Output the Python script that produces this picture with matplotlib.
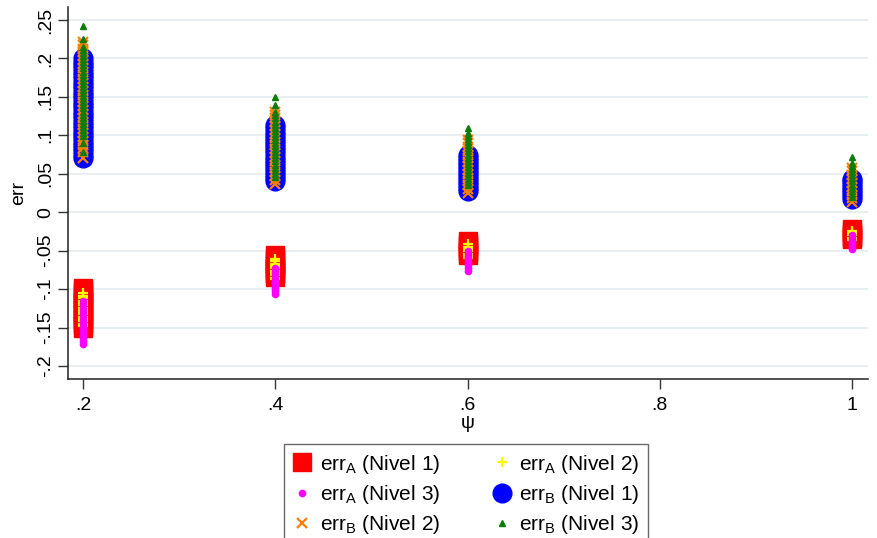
import numpy as np
import matplotlib
matplotlib.use("Agg")
import matplotlib.pyplot as plt

plt.rcParams['font.family'] = ['Liberation Sans', 'DejaVu Sans']
plt.rcParams['mathtext.fontset'] = 'custom'
plt.rcParams['mathtext.rm'] = 'Liberation Sans'

psi = [0.2, 0.4, 0.6, 1.0]

# err_A, nivel 1..3 (one list per psi value)
errA_n1 = [
    [-0.098, -0.101, -0.105, -0.108, -0.112, -0.115, -0.119, -0.122, -0.126, -0.129, -0.133, -0.137, -0.140, -0.144, -0.147, -0.150],
    [-0.056, -0.059, -0.062, -0.066, -0.069, -0.072, -0.075, -0.079, -0.081, -0.084],
    [-0.038, -0.041, -0.044, -0.047, -0.050, -0.053, -0.056],
    [-0.022, -0.025, -0.028, -0.031, -0.033, -0.035],
]
errA_n2 = [
    [-0.105, -0.109, -0.112, -0.115, -0.118, -0.121, -0.124, -0.127, -0.130, -0.133, -0.136, -0.139, -0.142, -0.145, -0.148],
    [-0.061, -0.064, -0.067, -0.070, -0.073, -0.076, -0.079, -0.082, -0.085, -0.087],
    [-0.042, -0.045, -0.048, -0.051, -0.054, -0.057, -0.060],
    [-0.024, -0.027, -0.030, -0.033, -0.036],
]
errA_n3 = [
    [-0.116, -0.120, -0.124, -0.128, -0.132, -0.136, -0.140, -0.144, -0.148, -0.152, -0.156, -0.160, -0.164, -0.168, -0.172],
    [-0.073, -0.076, -0.079, -0.082, -0.085, -0.088, -0.091, -0.094, -0.097, -0.100, -0.103, -0.106],
    [-0.051, -0.054, -0.057, -0.060, -0.063, -0.066, -0.069, -0.072, -0.076],
    [-0.030, -0.033, -0.036, -0.039, -0.042, -0.045, -0.048],
]
# err_B, nivel 1..3
errB_n1 = [
    [0.070, 0.074, 0.079, 0.083, 0.087, 0.092, 0.096, 0.100, 0.105, 0.109, 0.113, 0.118, 0.122, 0.126, 0.131, 0.135,
     0.139, 0.144, 0.148, 0.152, 0.157, 0.161, 0.165, 0.170, 0.174, 0.178, 0.183, 0.187, 0.191, 0.196, 0.200],
    [0.040, 0.044, 0.048, 0.052, 0.056, 0.060, 0.064, 0.068, 0.072, 0.077, 0.081, 0.085, 0.089, 0.093, 0.097, 0.101,
     0.105, 0.109, 0.113],
    [0.027, 0.031, 0.035, 0.039, 0.043, 0.047, 0.051, 0.055, 0.059, 0.063, 0.067, 0.071, 0.075],
    [0.017, 0.021, 0.025, 0.029, 0.033, 0.037, 0.040, 0.043],
]
errB_n2 = [
    [0.071, 0.078, 0.083, 0.088, 0.093, 0.098, 0.103, 0.108, 0.113, 0.118, 0.123, 0.128, 0.133, 0.138, 0.143, 0.148,
     0.153, 0.158, 0.163, 0.168, 0.173, 0.178, 0.183, 0.188, 0.193, 0.198, 0.203, 0.208, 0.213, 0.218, 0.222],
    [0.037, 0.042, 0.047, 0.052, 0.057, 0.062, 0.067, 0.072, 0.077, 0.082, 0.087, 0.092, 0.097, 0.102, 0.107, 0.112,
     0.117, 0.122, 0.126, 0.130],
    [0.025, 0.030, 0.035, 0.040, 0.045, 0.050, 0.055, 0.060, 0.065, 0.070, 0.075, 0.080, 0.085, 0.090, 0.094],
    [0.013, 0.018, 0.023, 0.028, 0.033, 0.038, 0.043, 0.048, 0.053, 0.058],
]
errB_n3 = [
    [0.078, 0.090, 0.099, 0.103, 0.107, 0.111, 0.115, 0.119, 0.123, 0.127, 0.131, 0.135, 0.139, 0.143, 0.147, 0.151,
     0.155, 0.159, 0.163, 0.167, 0.171, 0.175, 0.179, 0.183, 0.187, 0.191, 0.195, 0.199, 0.203, 0.207, 0.211, 0.215,
     0.226, 0.242],
    [0.046, 0.050, 0.054, 0.058, 0.062, 0.066, 0.070, 0.074, 0.078, 0.082, 0.086, 0.090, 0.094, 0.098, 0.102, 0.106,
     0.110, 0.114, 0.118, 0.122, 0.126, 0.130, 0.139, 0.150],
    [0.035, 0.039, 0.043, 0.047, 0.051, 0.055, 0.059, 0.063, 0.067, 0.071, 0.075, 0.079, 0.083, 0.087, 0.091, 0.095,
     0.099, 0.103, 0.110],
    [0.020, 0.024, 0.028, 0.032, 0.036, 0.040, 0.044, 0.048, 0.052, 0.056, 0.060, 0.064, 0.072],
]

xticks = [0.2, 0.4, 0.6, 0.8, 1.0]
xticklabels = [".2", ".4", ".6", ".8", "1"]
yticks = [-0.2, -0.15, -0.1, -0.05, 0, 0.05, 0.1, 0.15, 0.2, 0.25]
yticklabels = ["-.2", "-.15", "-.1", "-.05", "0", ".05", ".1", ".15", ".2", ".25"]


def flat(series):
    xs, ys = [], []
    for p, vals in zip(psi, series):
        xs += [p] * len(vals)
        ys += vals
    return xs, ys


fig = plt.figure(figsize=(8.78, 5.38), dpi=100)
ax = fig.add_axes([68 / 878, 1 - 379 / 538, 800 / 878, 372 / 538])

series = [
    (errA_n1, 's', '#ff0000', 13.5, 1.0, r'err$_\mathregular{A}$ (Nivel 1)'),
    (errA_n2, '+', '#ffff00', 7, 1.6, r'err$_\mathregular{A}$ (Nivel 2)'),
    (errA_n3, 'o', '#ff00ff', 4.5, 1.0, r'err$_\mathregular{A}$ (Nivel 3)'),
    (errB_n1, 'o', '#0000ff', 13.5, 1.0, r'err$_\mathregular{B}$ (Nivel 1)'),
    (errB_n2, 'x', '#ff8000', 6.5, 1.6, r'err$_\mathregular{B}$ (Nivel 2)'),
    (errB_n3, '^', '#0a7d0a', 4.5, 1.0, r'err$_\mathregular{B}$ (Nivel 3)'),
]
handles = []
for data, mk, col, ms, mew, lab in series:
    xs, ys = flat(data)
    h, = ax.plot(xs, ys, linestyle='none', marker=mk, color=col, markersize=ms,
                 markeredgewidth=mew, markeredgecolor=col, label=lab, zorder=3)
    handles.append(h)

ax.set_xlim(0.184, 1.017)
ax.set_ylim(-0.217, 0.267)
ax.set_xticks(xticks)
ax.set_xticklabels(xticklabels)
ax.set_yticks(yticks)
ax.set_yticklabels(yticklabels, rotation=90, va='center')
ax.tick_params(axis='both', labelsize=14, length=7, width=1, color='#333333')
ax.tick_params(axis='y', pad=3)
ax.tick_params(axis='x', pad=6)
ax.yaxis.grid(True, color='#e6eef2', linewidth=1.3)
ax.set_axisbelow(True)
for s in ['top', 'right']:
    ax.spines[s].set_visible(False)
for s in ['left', 'bottom']:
    ax.spines[s].set_linewidth(1.1)
    ax.spines[s].set_color('#222222')
ax.set_xlabel('ψ', fontsize=14, labelpad=1)
ax.set_ylabel('err', fontsize=14, labelpad=7)

# stata fills the legend row by row
order = [0, 2, 4, 1, 3, 5]
leg = fig.legend(handles=[handles[i] for i in order], loc='upper left',
                 bbox_to_anchor=(284 / 878, 1 - 444 / 538),
                 ncol=2, fontsize=15, frameon=True, fancybox=False, edgecolor='#444444',
                 borderaxespad=0, borderpad=0.42, handlelength=0.9, handletextpad=0.4,
                 columnspacing=2.5, labelspacing=0.34, numpoints=1)
leg.get_frame().set_linewidth(1.0)

fig.savefig('out.png', dpi=100)
